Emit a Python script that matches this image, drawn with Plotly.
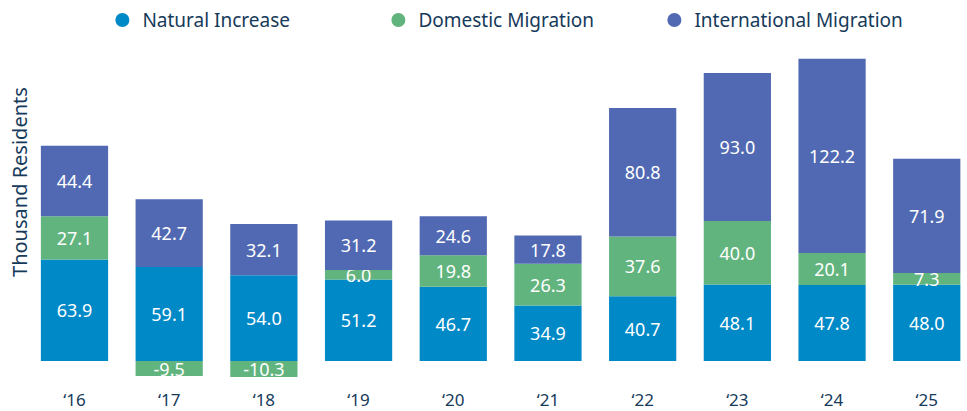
import plotly.graph_objects as go

years = ["‘16", "‘17", "‘18", "‘19", "‘20", "‘21", "‘22", "‘23", "‘24", "‘25"]
natural_increase = [63.9, 59.1, 54.0, 51.2, 46.7, 34.9, 40.7, 48.1, 47.8, 48.0]
domestic_migration = [27.1, -9.5, -10.3, 6.0, 19.8, 26.3, 37.6, 40.0, 20.1, 7.3]
international_migration = [44.4, 42.7, 32.1, 31.2, 24.6, 17.8, 80.8, 93.0, 122.2, 71.9]

series = [
    ("Natural Increase", natural_increase, "#0089C7"),
    ("Domestic Migration", domestic_migration, "#62B47E"),
    ("International Migration", international_migration, "#5169B2"),
]

FONT = "Noto Sans"
DARK = "#163a5a"

fig = go.Figure()
for name, vals, col in series:
    fig.add_trace(go.Bar(
        x=years, y=vals, name=name, marker=dict(color=col, line=dict(width=0)),
        texttemplate="%{y:.1f}", textposition="inside", insidetextanchor="middle",
        textfont=dict(color="white", size=18, family=FONT), cliponaxis=True,
        showlegend=False, hoverinfo="x+y+name",
    ))
for name, vals, col in series:
    fig.add_trace(go.Scatter(
        x=[years[0]], y=[None], mode="markers", name=name,
        marker=dict(color=col, size=14, symbol="circle"), showlegend=True,
    ))

fig.update_layout(
    width=967, height=411,
    barmode="relative", bargap=0.29,
    plot_bgcolor="white", paper_bgcolor="white",
    margin=dict(l=35, r=0, t=40, b=34, autoexpand=False),
    font=dict(family=FONT, color=DARK, size=17),
    uniformtext=dict(minsize=18, mode="show"),
    legend=dict(orientation="h", xref="container", yref="container",
                x=0.534, xanchor="center", y=0.951, yanchor="middle",
                font=dict(size=19, color=DARK), entrywidth=231, itemwidth=30),
    xaxis=dict(range=[-0.417, 9.425], showgrid=False, zeroline=False, showline=False,
               automargin=False, ticks="", tickfont=dict(size=17, color=DARK),
               ticklabelstandoff=11),
    yaxis=dict(range=[-10.06, 201.9], visible=False, showgrid=False, zeroline=False,
               automargin=False),
    annotations=[dict(text="Thousand Residents", xref="paper", yref="paper",
                      x=-0.016, y=0.579, textangle=-90, showarrow=False,
                      font=dict(size=20, color=DARK), xanchor="center", yanchor="middle")],
)

fig.write_html("out.html", config={"displayModeBar": False},
               post_script="document.body.style.margin='0';document.body.style.overflow='hidden';")
